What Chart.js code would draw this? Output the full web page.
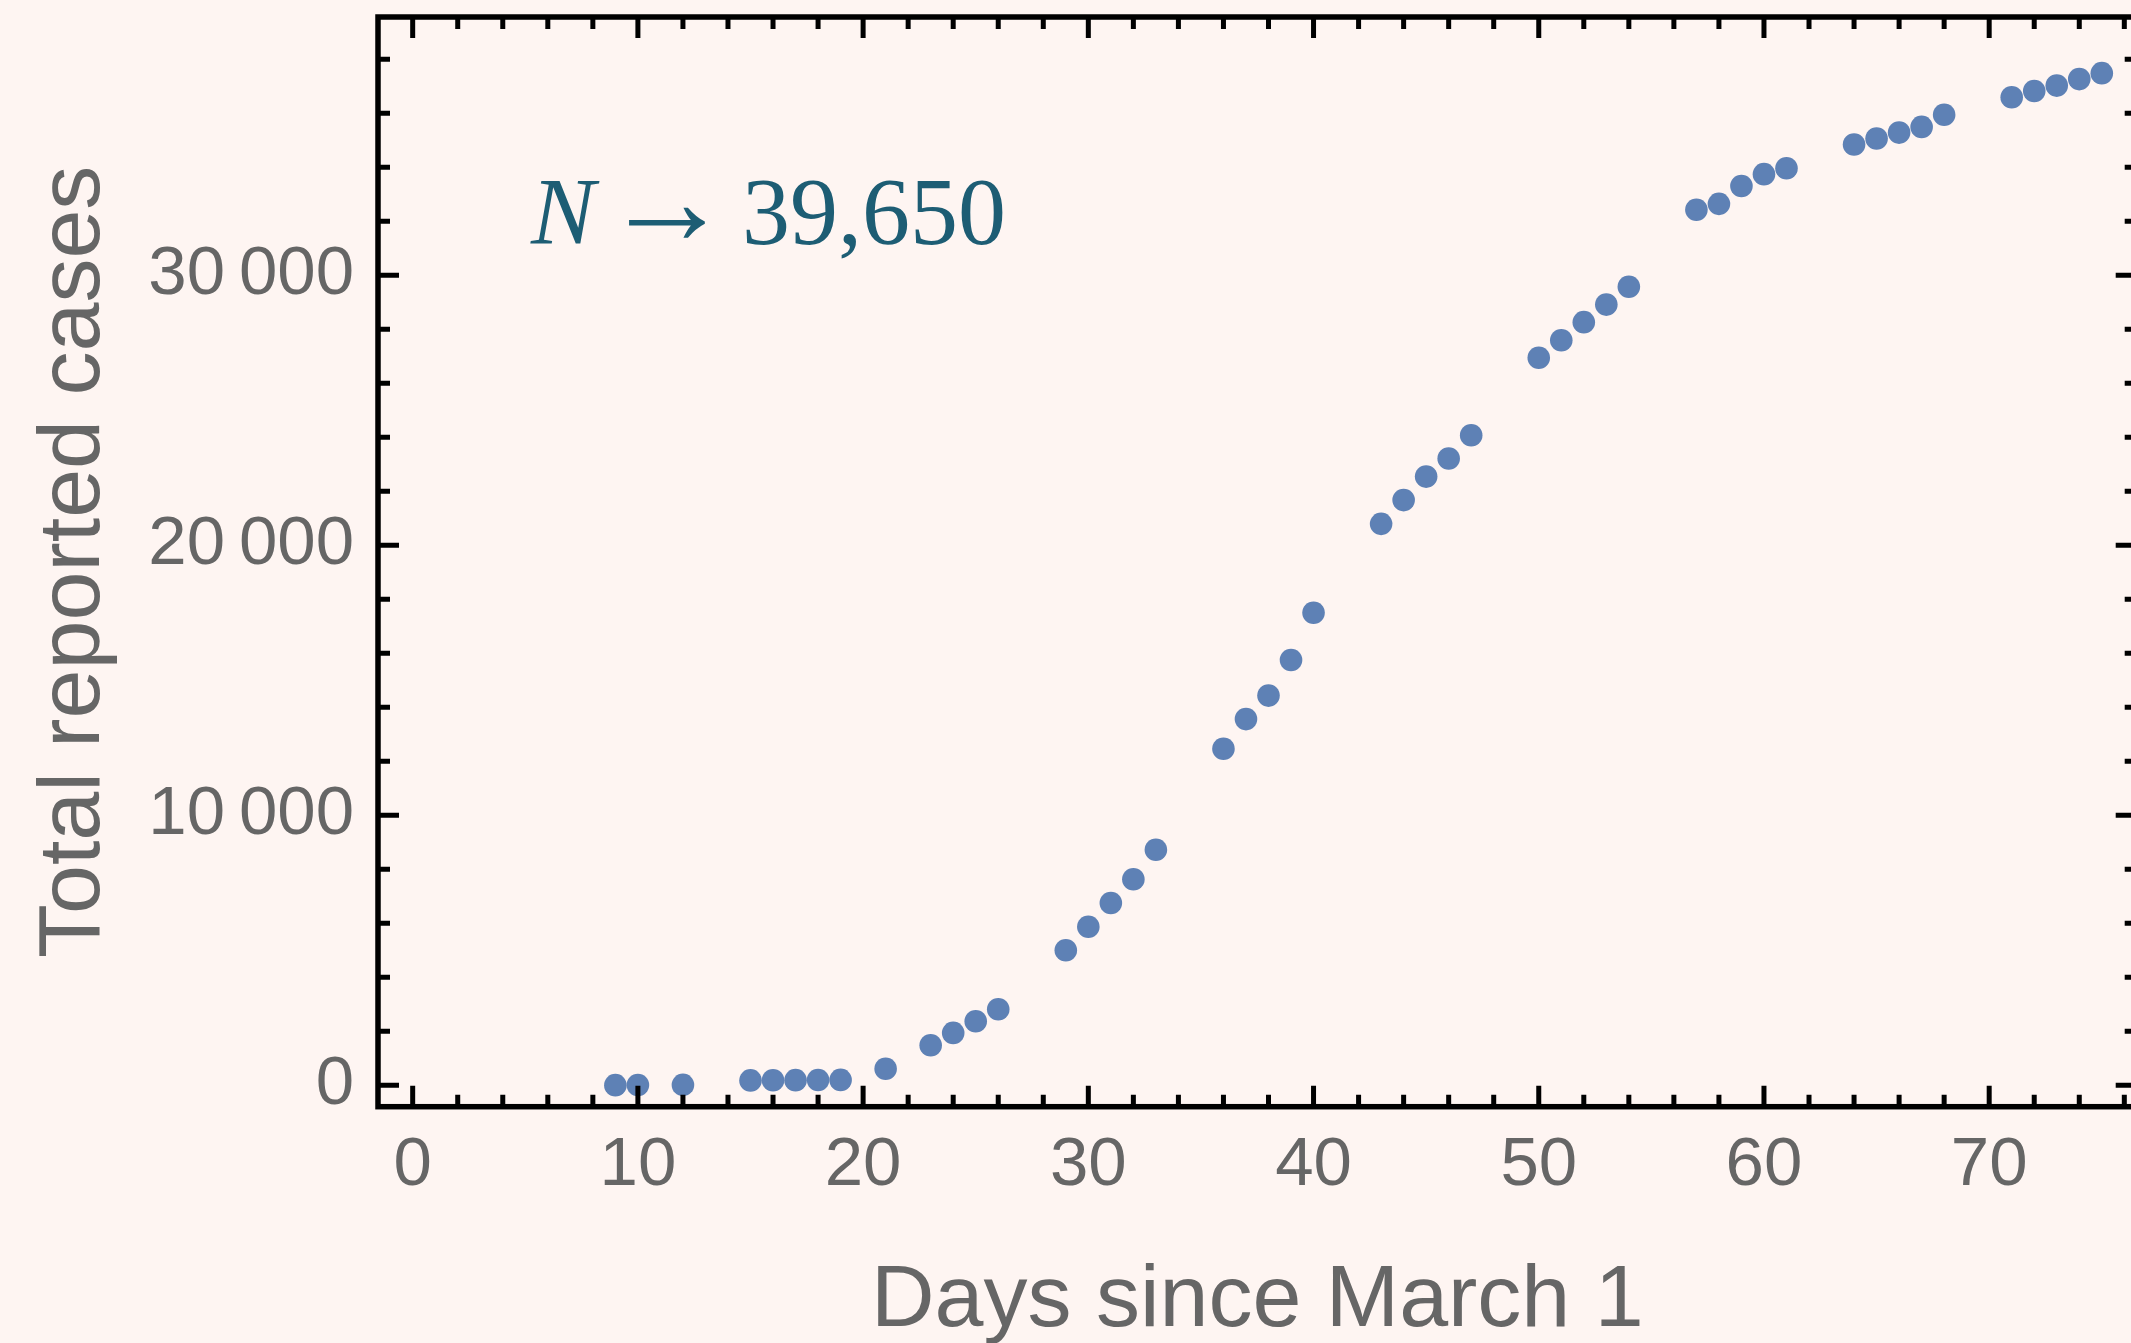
<!DOCTYPE html>
<html>
<head>
<meta charset="utf-8">
<script src="https://cdn.jsdelivr.net/npm/chart.js@4.4.1/dist/chart.umd.min.js"></script>
<style>
  html, body { margin: 0; padding: 0; background: #fef5f2; overflow: hidden; }
  /* a little wider than the window: the right frame edge sits just off-screen */
  #wrap { position: relative; width: 2148px; height: 1343px; }
</style>
</head>
<body>
<div id="wrap"><canvas id="chart"></canvas></div>
<script>
// Days since March 1 (no reports on the skipped days)
const days = [9, 10, 12, 15, 16, 17, 18, 19, 21, 23, 24, 25, 26,
  29, 30, 31, 32, 33, 36, 37, 38, 39, 40, 43, 44, 45, 46, 47,
  50, 51, 52, 53, 54, 57, 58, 59, 60, 61, 64, 65, 66, 67, 68,
  71, 72, 73, 74, 75];

// Total reported cases
const totalCases = [5, 10, 15, 180, 185, 190, 195, 200, 610, 1480, 1940, 2370, 2815,
  5000, 5870, 6750, 7630, 8720, 12460, 13560, 14430, 15750, 17500,
  20790, 21670, 22540, 23210, 24070, 26940, 27590, 28260, 28910, 29570,
  32420, 32640, 33300, 33740, 33960, 34840, 35060, 35280, 35490, 35940,
  36590, 36820, 37020, 37260, 37480];

const xTicks = [0, 10, 20, 30, 40, 50, 60, 70];
const yTicks = [0, 10000, 20000, 30000];
const fittedN = '39,650';

const xRange = [-1.54, 76.55];
const yRange = [-793, 39560];

const BG = '#fef5f2';
const POINT = '#5e81b5';
const LABEL = '#666666';
const NOTE = '#1d5d74';

// minor ticks every 2 days / 2000 cases
const xMinor = [];
for (let v = 0; v <= 76; v += 2) xMinor.push(v);
const yMinor = [];
for (let v = 0; v <= 38000; v += 2000) yMinor.push(v);

Chart.defaults.font.family = '"Liberation Sans", Arial, sans-serif';

const fmtThousands = v => {
  if (Math.abs(v) < 10000) return String(v);
  const s = String(v);
  return s.slice(0, s.length - 3) + '\u2009' + s.slice(-3);
};

// Background, Mathematica-style frame with inward ticks, and the N annotation
const framePlugin = {
  id: 'framePlugin',
  beforeDraw(chart) {
    const ctx = chart.ctx;
    ctx.save();
    ctx.fillStyle = BG;
    ctx.fillRect(0, 0, chart.width, chart.height);
    ctx.restore();
  },
  afterDatasetsDraw(chart) {
    const { ctx, chartArea: a, scales: { x, y } } = chart;
    ctx.save();
    ctx.strokeStyle = '#000';
    ctx.lineWidth = 5;
    ctx.lineCap = 'butt';
    ctx.beginPath();
    xMinor.forEach(v => {
      const px = x.getPixelForValue(v);
      const len = xTicks.includes(v) ? 21 : 12;
      ctx.moveTo(px, a.bottom); ctx.lineTo(px, a.bottom - len);
      ctx.moveTo(px, a.top); ctx.lineTo(px, a.top + len);
    });
    yMinor.forEach(v => {
      const py = y.getPixelForValue(v);
      const len = yTicks.includes(v) ? 21 : 12;
      ctx.moveTo(a.left, py); ctx.lineTo(a.left + len, py);
      ctx.moveTo(a.right, py); ctx.lineTo(a.right - len, py);
    });
    ctx.stroke();
    ctx.lineWidth = 5.5;
    ctx.strokeRect(a.left, a.top, a.right - a.left, a.bottom - a.top);

    // N -> 39,650
    const bx = x.getPixelForValue(5.25);
    const by = y.getPixelForValue(31140);
    ctx.fillStyle = NOTE;
    ctx.textBaseline = 'alphabetic';
    ctx.textAlign = 'left';
    ctx.font = 'italic 96px "Liberation Serif", "Times New Roman", serif';
    ctx.fillText('N', bx, by);
    ctx.font = '128px "Liberation Serif", "Times New Roman", serif';
    ctx.fillText('\u2192', bx + 72, by);
    ctx.font = '96px "Liberation Serif", "Times New Roman", serif';
    ctx.fillText(fittedN, bx + 211, by);
    ctx.restore();
  }
};

new Chart(document.getElementById('chart'), {
  type: 'scatter',
  data: {
    datasets: [{
      label: 'Total reported cases',
      data: days.map((d, i) => ({ x: d, y: totalCases[i] })),
      backgroundColor: POINT,
      borderWidth: 0,
      pointRadius: 11.3,
      pointHoverRadius: 11.3
    }]
  },
  options: {
    responsive: true,
    maintainAspectRatio: false,
    devicePixelRatio: 1,
    animation: false,
    layout: { padding: { top: 17, right: 9, bottom: 0, left: 0 } },
    plugins: { legend: { display: false }, tooltip: { enabled: false } },
    scales: {
      x: {
        type: 'linear',
        position: 'bottom',
        min: xRange[0],
        max: xRange[1],
        afterBuildTicks: s => { s.ticks = xTicks.map(v => ({ value: v })); },
        afterFit: s => { s.height = 236.3; s.paddingLeft = 0; s.paddingRight = 0; },
        grid: { display: false, drawTicks: false },
        border: { display: false },
        ticks: {
          color: LABEL,
          font: { size: 69, lineHeight: 1 },
          padding: 25,
          maxRotation: 0,
          autoSkip: false,
          callback: v => String(v)
        },
        title: {
          display: true,
          text: 'Days since March 1',
          color: LABEL,
          font: { size: 88, lineHeight: 1 },
          padding: { top: 0, bottom: -3 }
        }
      },
      y: {
        type: 'linear',
        position: 'left',
        min: yRange[0],
        max: yRange[1],
        afterBuildTicks: s => { s.ticks = yTicks.map(v => ({ value: v })); },
        afterFit: s => { s.width = 378; s.paddingTop = 0; s.paddingBottom = 0; },
        grid: { display: false, drawTicks: false },
        border: { display: false },
        ticks: {
          color: LABEL,
          font: { size: 69, lineHeight: 1 },
          padding: 24,
          autoSkip: false,
          callback: v => fmtThousands(v)
        },
        title: {
          display: true,
          text: 'Total reported cases',
          color: LABEL,
          font: { size: 88, lineHeight: 1 },
          padding: { top: 31, bottom: 0 }
        }
      }
    }
  },
  plugins: [framePlugin]
});
</script>
</body>
</html>
